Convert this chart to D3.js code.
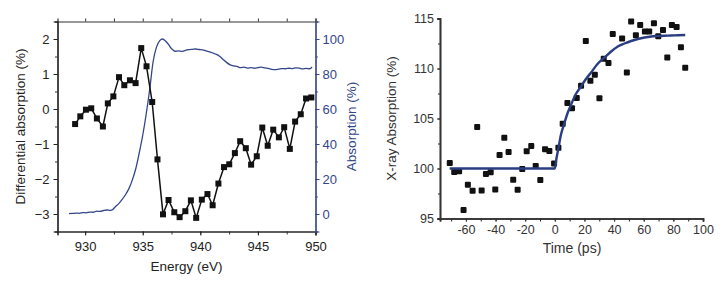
<!DOCTYPE html>
<html><head><meta charset="utf-8">
<script src="https://cdn.jsdelivr.net/npm/d3@7"></script>
<style>
body{margin:0;background:#fff;}
svg{display:block;font-family:"Liberation Sans",Arial,Helvetica,sans-serif;}
</style></head>
<body><svg id="c" width="728" height="282"></svg>
<script>
// ---------- Left panel data ----------
const diffEnergy = [929.13,929.58,930.07,930.53,931.02,931.54,931.97,932.45,932.94,933.40,933.89,934.38,934.87,935.33,935.82,936.28,936.76,937.24,937.74,938.20,938.70,939.18,939.64,940.13,940.62,941.07,941.57,942.06,942.51,943.00,943.46,943.95,944.41,944.90,945.38,945.85,946.33,946.82,947.28,947.77,948.23,948.72,949.18,949.64];
const diffValue = [-0.43,-0.21,-0.02,0.02,-0.27,-0.50,0.16,0.36,0.91,0.68,0.82,0.74,1.74,1.22,0.20,-1.44,-3.01,-2.60,-2.95,-3.09,-2.92,-2.61,-3.11,-2.59,-2.43,-2.75,-2.13,-1.66,-1.58,-1.26,-0.92,-1.12,-1.59,-1.35,-0.53,-1.05,-0.59,-0.81,-0.52,-1.14,-0.36,-0.15,0.30,0.33];
const absEnergy = [928.6,928.9,929.2,929.5,929.8,930.1,930.4,930.7,931.0,931.3,931.6,931.9,932.2,932.4,932.6,932.9,933.2,933.5,933.8,934.1,934.4,934.7,935.0,935.3,935.6,935.9,936.2,936.5,936.7,936.9,937.2,937.5,937.8,938.1,938.4,938.7,939.0,939.3,939.6,939.9,940.2,940.5,940.8,941.1,941.4,941.7,942.0,942.3,942.6,942.9,943.2,943.5,943.8,944.1,944.4,944.7,945.0,945.3,945.6,945.9,946.2,946.5,946.8,947.1,947.4,947.7,948.0,948.3,948.6,948.9,949.2,949.5,949.7];
const absValue = [0.2,0.3,0.5,0.4,0.8,0.7,1.1,1.0,1.6,1.5,2.0,2.3,2.1,2.6,4.0,5.8,8.2,11.0,14.5,19.5,26,35,45,57,71,87,95.5,99.2,100,99.3,97.2,94.5,93.0,93.2,92.9,93.5,93.9,94.1,94.3,94.0,93.8,93.2,92.7,92.0,91.2,90.0,88.2,86.5,85.2,84.6,84.3,83.6,83.9,83.4,83.7,83.3,83.6,83.9,83.5,83.2,82.7,82.5,82.8,83.1,83.0,83.3,83.1,83.5,83.3,82.9,83.2,83.0,84.0];
const energyTicks = [930,935,940,945,950];
const diffTicks = [-3,-2,-1,0,1,2];
const absTicks = [0,20,40,60,80,100];

// ---------- Right panel data ----------
const timePs = [-70.9,-67.9,-64.6,-61.6,-58.7,-55.5,-52.4,-49.4,-46.5,-43.3,-40.2,-37.3,-34.1,-31.2,-28.1,-25.1,-22.0,-19.0,-15.9,-12.9,-9.8,-6.6,-3.7,-0.5,2.4,5.3,8.5,11.6,14.8,17.7,20.9,24.0,27.0,30.1,33.0,36.2,39.1,45.4,48.6,51.5,54.7,57.6,60.8,63.7,66.9,69.8,73.0,75.9,79.0,82.2,85.1,88.0];
const xrayAbs = [100.56,99.65,99.72,95.86,98.38,97.77,104.15,97.81,99.45,99.62,97.91,101.36,103.07,101.66,98.88,97.87,99.95,101.73,102.24,100.26,98.85,101.93,101.76,100.49,102.07,104.48,106.56,106.02,107.06,108.27,112.75,108.77,109.37,107.02,110.98,110.54,113.45,112.99,109.6,114.7,113.32,114.36,113.69,113.69,114.53,113.22,113.85,111.11,114.36,114.16,112.12,110.07];
const fitTime = [-71,-40,-10,0,1.2,2.4,4,6.4,8.5,11,14,17.7,21,24.5,28.5,33.5,38,42.5,47,51.5,56,60.5,65,69.6,74,78.6,83,88];
const fitValue = [100,100,100,100,101.1,102.0,103.3,104.5,105.5,106.4,107.4,108.2,108.95,109.6,110.4,111.1,111.7,112.2,112.5,112.75,112.95,113.1,113.2,113.25,113.28,113.3,113.33,113.35];
const timeTicks = [-60,-40,-20,0,20,40,60,80,100];
const xrayTicks = [95,100,105,110,115];

const svg = d3.select("#c");
const blue = "#34468a";
const axisCol = "#333";

// ================= LEFT PANEL =================
const L = {x0:57.5, x1:315.5, y0:21.5, y1:231.5};
const xE = d3.scaleLinear().domain([927.6,950]).range([L.x0,L.x1]);
const yD = d3.scaleLinear().domain([-3.5,2.5]).range([L.y1,L.y0]);
const yA = d3.scaleLinear().domain([-10,110]).range([L.y1,L.y0]);

const gL = svg.append("g");
function styleAxis(g, col, fs){
  g.selectAll("path.domain").attr("stroke",col).attr("stroke-width",1.2);
  g.selectAll("line").attr("stroke",col).attr("stroke-width",1);
  g.selectAll("text").attr("fill",col).attr("font-size",fs).attr("font-family","'Liberation Sans',Arial,sans-serif");
}
const minorE = d3.range(927.5+0.0001, 950.01, 2.5).filter(v=>v>=927.6);
// bottom minor ticks
gL.append("g").attr("transform",`translate(0,${L.y1})`)
  .call(d3.axisBottom(xE).tickValues(minorE).tickSize(3).tickFormat(""))
  .call(g=>styleAxis(g,axisCol,13));
gL.append("g").attr("transform",`translate(0,${L.y1})`)
  .call(d3.axisBottom(xE).tickValues(energyTicks).tickSize(4).tickPadding(6).tickFormat(d3.format("d")))
  .call(g=>styleAxis(g,"#222",13));
// top
gL.append("g").attr("transform",`translate(0,${L.y0})`)
  .call(d3.axisTop(xE).tickValues(minorE).tickSize(3).tickFormat(""))
  .call(g=>styleAxis(g,axisCol,13));
// left
const minorD = d3.range(-3.5,2.51,0.5);
gL.append("g").attr("transform",`translate(${L.x0},0)`)
  .call(d3.axisLeft(yD).tickValues(minorD).tickSize(2.5).tickFormat(""))
  .call(g=>styleAxis(g,axisCol,13));
gL.append("g").attr("transform",`translate(${L.x0},0)`)
  .call(d3.axisLeft(yD).tickValues(diffTicks).tickSize(4).tickPadding(4).tickFormat(d3.format("d")))
  .call(g=>styleAxis(g,"#222",13));
// right (blue)
const minorA = d3.range(-10,110.1,10);
gL.append("g").attr("transform",`translate(${L.x1},0)`)
  .call(d3.axisRight(yA).tickValues(minorA).tickSize(2.5).tickFormat(""))
  .call(g=>styleAxis(g,"#4a5580",13));
gL.append("g").attr("transform",`translate(${L.x1},0)`)
  .call(d3.axisRight(yA).tickValues(absTicks).tickSize(4).tickPadding(3).tickFormat(d3.format("d")))
  .call(g=>styleAxis(g,blue,13));

// blue absorption line
gL.append("path")
  .datum(absEnergy.map((e,i)=>[e,absValue[i]]))
  .attr("fill","none").attr("stroke",blue).attr("stroke-width",1.3)
  .attr("d",d3.line().x(d=>xE(d[0])).y(d=>yA(d[1])).curve(d3.curveMonotoneX));

// black differential line + squares
const diffData = diffEnergy.map((e,i)=>[e,diffValue[i]]);
gL.append("path").datum(diffData)
  .attr("fill","none").attr("stroke","#111").attr("stroke-width",1.5)
  .attr("d",d3.line().x(d=>xE(d[0])).y(d=>yD(d[1])));
gL.selectAll("rect.dp").data(diffData).join("rect").attr("class","dp")
  .attr("x",d=>xE(d[0])-3).attr("y",d=>yD(d[1])-3)
  .attr("width",6).attr("height",6).attr("fill","#111");

// titles
gL.append("text").attr("transform",`translate(25,${(L.y0+L.y1)/2}) rotate(-90)`)
  .attr("text-anchor","middle").attr("font-size",13.5).attr("fill","#222")
  .text("Differential absorption (%)");
gL.append("text").attr("transform",`translate(356,${(L.y0+L.y1)/2}) rotate(-90)`)
  .attr("text-anchor","middle").attr("font-size",13.5).attr("fill",blue)
  .text("Absorption (%)");
gL.append("text").attr("x",(L.x0+L.x1)/2).attr("y",271)
  .attr("text-anchor","middle").attr("font-size",13.5).attr("fill","#222")
  .text("Energy (eV)");

// ================= RIGHT PANEL =================
const R = {x0:440, x1:703, y0:18.5, y1:218.5};
const xT = d3.scaleLinear().domain([-77.5,100]).range([R.x0,R.x1]);
const yX = d3.scaleLinear().domain([95,115]).range([R.y1,R.y0]);
const gR = svg.append("g");
const hyph = d=>d3.format("d")(d).replace("\u2212","-");
const minorT = d3.range(-70,100.1,10);
gR.append("g").attr("transform",`translate(0,${R.y1})`)
  .call(d3.axisBottom(xT).tickValues(minorT).tickSize(3).tickFormat(""))
  .call(g=>styleAxis(g,"#222",13));
gR.append("g").attr("transform",`translate(0,${R.y1})`)
  .call(d3.axisBottom(xT).tickValues(timeTicks).tickSize(3).tickPadding(4).tickFormat(hyph))
  .call(g=>styleAxis(g,"#333",12.5));
const minorX = d3.range(95,115.1,2.5);
gR.append("g").attr("transform",`translate(${R.x0},0)`)
  .call(d3.axisLeft(yX).tickValues(minorX).tickSize(2).tickFormat(""))
  .call(g=>styleAxis(g,"#222",13));
gR.append("g").attr("transform",`translate(${R.x0},0)`)
  .call(d3.axisLeft(yX).tickValues(xrayTicks).tickSize(3).tickPadding(3).tickFormat(hyph))
  .call(g=>styleAxis(g,"#333",12.5));
gR.selectAll("path.domain").attr("stroke-width",1.6);

// scatter
gR.selectAll("rect.sp").data(timePs.map((t,i)=>[t,xrayAbs[i]])).join("rect").attr("class","sp")
  .attr("x",d=>xT(d[0])-3).attr("y",d=>yX(d[1])-3)
  .attr("width",6).attr("height",6).attr("rx",1).attr("fill","#111");
// fit curve
gR.append("path").datum(fitTime.map((t,i)=>[t,fitValue[i]]))
  .attr("fill","none").attr("stroke","#2a3d80").attr("stroke-width",2.4)
  .attr("d",d3.line().x(d=>xT(d[0])).y(d=>yX(d[1])).curve(d3.curveMonotoneX));

gR.append("text").attr("transform",`translate(396,${(R.y0+R.y1)/2}) rotate(-90)`)
  .attr("text-anchor","middle").attr("font-size",13.5).attr("fill","#333")
  .text("X-ray Absorption (%)");
gR.append("text").attr("x",572).attr("y",253)
  .attr("text-anchor","middle").attr("font-size",14).attr("fill","#333")
  .text("Time (ps)");
</script></body></html>
